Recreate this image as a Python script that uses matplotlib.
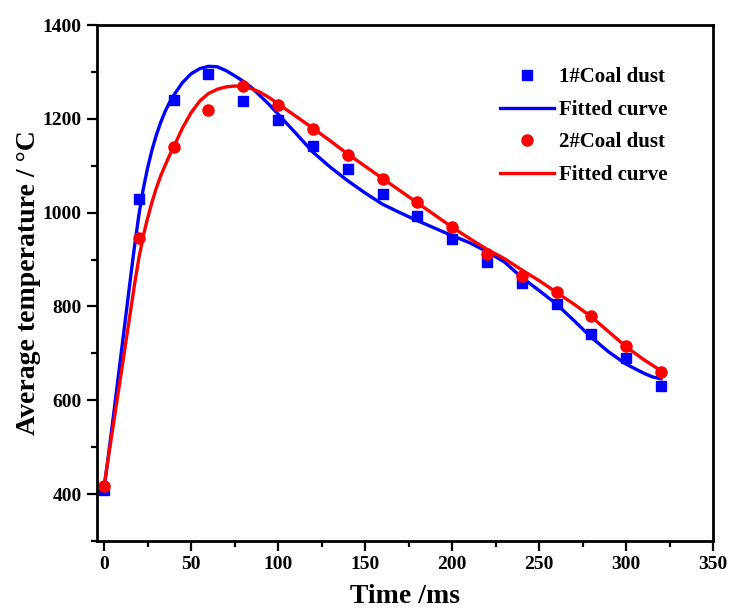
import numpy as np
import matplotlib
matplotlib.use('Agg')
import matplotlib.pyplot as plt
from matplotlib.ticker import MultipleLocator

plt.rcParams['font.family'] = ['Liberation Serif', 'DejaVu Serif']

# measured points
time_pts = [0, 20, 40, 60, 80, 100, 120, 140, 160, 180, 200, 220, 240, 260, 280, 300, 320]
coal1 = [408, 1030, 1240, 1295, 1238, 1197, 1143, 1093, 1040, 992, 944, 894, 851, 805, 741, 691, 631]
coal2 = [418, 945, 1140, 1218, 1270, 1229, 1179, 1122, 1072, 1022, 969, 912, 866, 830, 780, 716, 660]

# fitted curves
time_fit = [0, 5, 10, 15, 17.5, 20, 22.5, 25, 27.5, 30, 32.5, 35, 37.5, 40, 45, 50, 55, 60, 65, 70,
            75, 80, 85, 90, 95, 100, 110, 120, 130, 140, 150, 160, 170, 180, 190, 200, 210, 220,
            230, 240, 250, 260, 270, 280, 290, 300, 310, 315, 320]
fit1 = [410, 555, 705, 855, 928, 995, 1050, 1095, 1133, 1165, 1192, 1215, 1234, 1250, 1277, 1296,
        1307, 1312, 1311, 1303, 1292, 1280, 1266, 1248, 1230, 1210, 1170, 1129, 1097, 1068, 1042,
        1018, 1000, 983, 967, 951, 936, 917, 895, 862, 834, 805, 770, 734, 703, 677, 658, 650, 646]
fit2 = [418, 540, 662, 785, 847, 903, 950, 988, 1022, 1052, 1078, 1100, 1121, 1140, 1180, 1213,
        1238, 1254, 1263, 1268, 1270, 1269, 1264, 1256, 1245, 1232, 1206, 1180, 1153, 1125, 1099,
        1073, 1047, 1021, 995, 969, 945, 922, 902, 878, 855, 830, 805, 778, 746, 714, 687, 675, 663]

fig = plt.figure(figsize=(7.3, 6.1), dpi=100)
ax = fig.add_axes([0.133, 0.113, 0.844, 0.846])

ax.plot(time_pts, coal1, 's', color='#0000ff', markersize=7.5, label='1#Coal dust')
ax.plot(time_fit, fit1, '-', color='#0000ff', linewidth=2.4, label='Fitted curve')
ax.plot(time_pts, coal2, 'o', color='#ff0000', markersize=8, label='2#Coal dust')
ax.plot(time_fit, fit2, '-', color='#ff0000', linewidth=2.4, label='Fitted curve')

ax.set_xlim(-4, 350)
ax.set_ylim(300, 1400)
ax.xaxis.set_major_locator(MultipleLocator(50))
ax.xaxis.set_minor_locator(MultipleLocator(25))
ax.yaxis.set_major_locator(MultipleLocator(200))
ax.yaxis.set_minor_locator(MultipleLocator(100))
ax.set_yticks([400, 600, 800, 1000, 1200, 1400])

ax.tick_params(which='major', direction='out', length=7, width=1.6, labelsize=14, pad=4)
ax.tick_params(which='minor', direction='out', length=4.5, width=1.6)
for lab in ax.get_xticklabels() + ax.get_yticklabels():
    lab.set_fontweight('bold')
for s in ax.spines.values():
    s.set_linewidth(2.0)

ax.set_xlabel('Time /ms', fontsize=20, fontweight='bold', labelpad=8)
ax.set_ylabel('Average temperature / °C', fontsize=20, fontweight='bold', labelpad=1)

leg = ax.legend(loc='upper right', bbox_to_anchor=(0.925, 0.918), frameon=False,
                prop={'size': 15, 'weight': 'bold'}, handlelength=2.6, handletextpad=0.2,
                labelspacing=0.6, borderpad=0, borderaxespad=0, markerfirst=True)

plt.savefig('out.png', dpi=100)
